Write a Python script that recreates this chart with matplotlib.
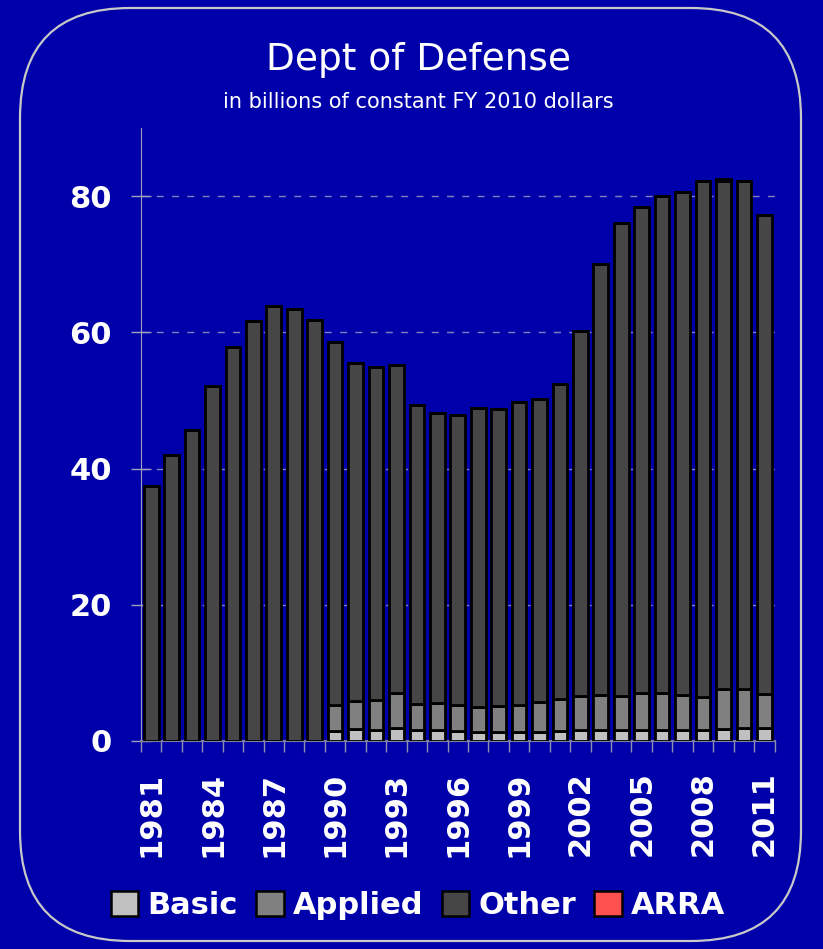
import numpy as np
import matplotlib.pyplot as plt
from matplotlib.patches import FancyBboxPatch, Patch

# Data (billions of constant FY 2010 dollars)
years = list(range(1981, 2012))
total = [37.4, 42.0, 45.7, 52.1, 57.8, 61.7, 63.9, 63.5, 61.8, 58.6,
         55.5, 54.9, 55.2, 49.3, 48.1, 47.9, 48.9, 48.7, 49.8, 50.2,
         52.4, 60.2, 70.0, 76.0, 78.4, 80.1, 80.6, 82.3, 82.5, 82.3, 77.2]
basic = [0]*9 + [1.5, 1.75, 1.65, 1.85, 1.6, 1.65, 1.45, 1.3, 1.3, 1.35, 1.35,
                 1.5, 1.65, 1.6, 1.55, 1.65, 1.55, 1.55, 1.6, 1.75, 1.85, 1.95]
applied_top = [0]*9 + [5.3, 5.9, 6.0, 7.0, 5.4, 5.6, 5.3, 5.0, 5.1, 5.3, 5.7,
                       6.1, 6.55, 6.7, 6.6, 7.0, 7.0, 6.8, 6.5, 7.7, 7.6, 6.85]
arra = [0]*28 + [0.3, 0, 0]

basic = np.array(basic)
applied = np.array(applied_top) - basic
arra = np.array(arra)
other = np.array(total) - np.array(applied_top) - arra

bg = '#0000AA'
fig = plt.figure(figsize=(8.23, 9.49), dpi=100, facecolor=bg)

# rounded frame
frame = FancyBboxPatch((0.2, 0.08), 7.81, 9.33, boxstyle="round,pad=0,rounding_size=1.1",
                       transform=fig.dpi_scale_trans, facecolor='none', edgecolor='#c8c8c8',
                       linewidth=1.6, zorder=-1)
fig.patches.append(frame)

ax = fig.add_axes([0.1713, 0.2192, 0.7698, 0.6458])
ax.set_facecolor('none')

x = np.arange(len(years))
w = 0.72
kw = dict(width=w, edgecolor='black', linewidth=2.0, zorder=3)
ax.bar(x, basic, color='#c0c0c0', **kw)
ax.bar(x, applied, bottom=basic, color='#808080', **kw)
ax.bar(x, other, bottom=basic + applied, color='#464646', **kw)
ax.bar(x, arra, bottom=basic + applied + other, color='#ff5050', **kw)

ax.set_xlim(-0.5, len(years) - 0.5)
ax.set_ylim(0, 90)
ax.set_yticks([0, 20, 40, 60, 80])
ax.yaxis.grid(True, color='#8080c0', linestyle=(0, (5, 6)), linewidth=1)
ax.set_axisbelow(True)

ax.set_xticks(x[::3])
ax.set_xticklabels([str(y) for y in years[::3]], rotation=90)
ax.set_xticks(np.arange(len(years) + 1) - 0.5, minor=True)
ax.tick_params(axis='x', which='major', length=0, pad=22, labelsize=22, labelcolor='white')
ax.tick_params(axis='x', which='minor', length=8, color='#9090b0', width=1)
ax.tick_params(axis='y', direction='inout', length=14, color='#a0a0b8', width=1,
               labelsize=22, labelcolor='white', pad=14)
for lab in ax.get_xticklabels() + ax.get_yticklabels():
    lab.set_fontweight('semibold')

for s in ['top', 'right']:
    ax.spines[s].set_visible(False)
ax.spines['left'].set_color('#a0a0b8')
ax.spines['bottom'].set_color('#8080a0')
ax.spines['bottom'].set_linewidth(1.5)

fig.text(0.508, 0.937, 'Dept of Defense', color='white', fontsize=27, ha='center', va='center')
fig.text(0.508, 0.892, 'in billions of constant FY 2010 dollars', color='white', fontsize=15,
         ha='center', va='center')

handles = [Patch(facecolor='#c0c0c0', edgecolor='black', linewidth=1.8, label='Basic'),
           Patch(facecolor='#808080', edgecolor='black', linewidth=1.8, label='Applied'),
           Patch(facecolor='#464646', edgecolor='black', linewidth=1.8, label='Other'),
           Patch(facecolor='#ff5050', edgecolor='black', linewidth=1.8, label='ARRA')]
leg = fig.legend(handles=handles, loc='center', bbox_to_anchor=(0.508, 0.046), ncol=4,
                 frameon=False, handlelength=0.9, handleheight=0.9, handletextpad=0.3,
                 columnspacing=0.6, prop={'size': 22, 'weight': 'semibold'})
for t in leg.get_texts():
    t.set_color('white')

fig.savefig('out.png', dpi=100, facecolor=bg)
